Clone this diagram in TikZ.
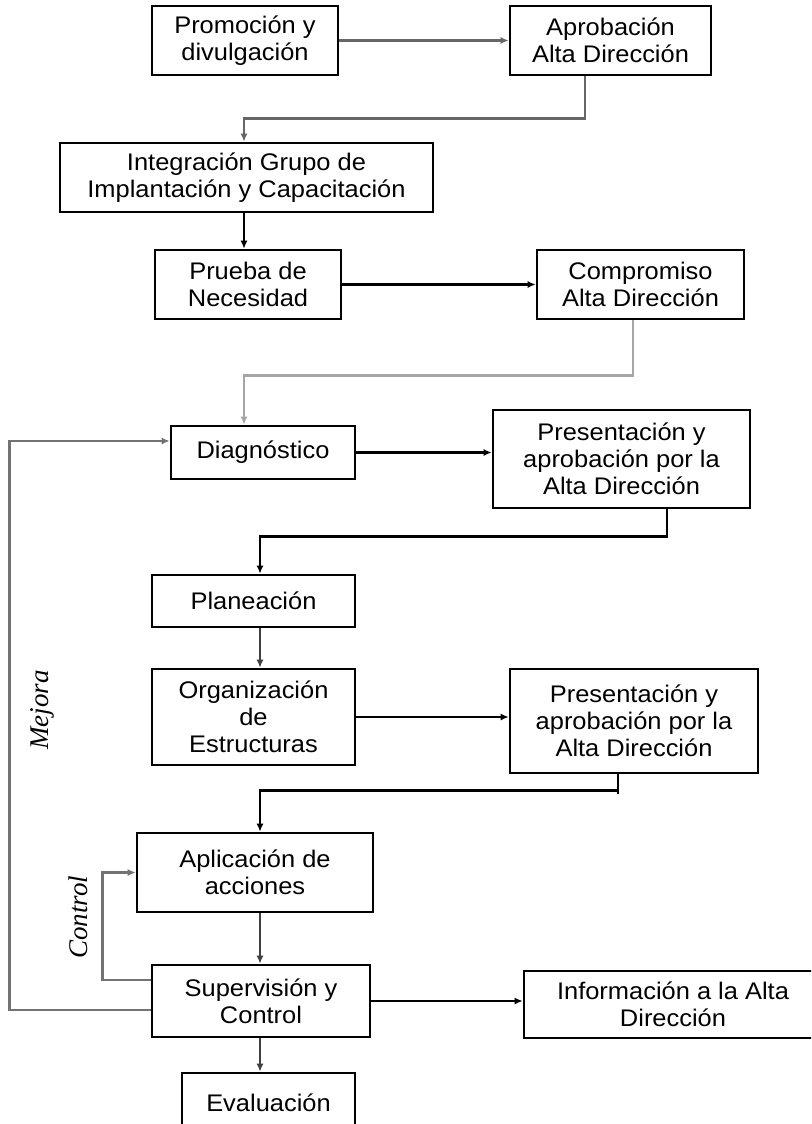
\documentclass[tikz,border=0pt]{standalone}
\usepackage{fontspec}
\setmainfont[FakeStretch=1.06]{Liberation Sans}
\newfontfamily\loopfont{Liberation Serif}
\usetikzlibrary{arrows.meta}

\begin{document}
\begin{tikzpicture}[x=1pt, y=-1pt,
    box/.style={draw, line width=2.6pt, align=center, inner sep=0pt, font=\fontsize{24}{27}\selectfont},
    conn/.style={line width=2.4pt, -{Latex[length=8pt,width=7pt]}},
    loopline/.style={line width=2.6pt, black!55, -{Latex[length=8pt,width=7pt]}},
    looplabel/.style={rotate=90, font=\loopfont\itshape\fontsize{27}{30}\selectfont}]
    \useasboundingbox (0,0) rectangle (811,1124);
    \clip (0,0) rectangle (811,1124);
    \node[box, minimum width=186pt, minimum height=69pt] (prom) at (245,40.5) {Promoción y\\divulgación};
    \node[box, minimum width=201pt, minimum height=69pt] (aprob) at (610.5,40.5) {Aprobación\\Alta Dirección};
    \node[box, minimum width=373pt, minimum height=69pt] (integ) at (246.5,177.5) {Integración Grupo de\\Implantación y Capacitación};
    \node[box, minimum width=186pt, minimum height=69pt] (prueba) at (248,284.5) {Prueba de\\Necesidad};
    \node[box, minimum width=207pt, minimum height=69pt] (compr) at (640.5,284.5) {Compromiso\\Alta Dirección};
    \node[box, minimum width=184pt, minimum height=53pt] (diag) at (263,452.5) {Diagnóstico};
    \node[box, minimum width=257pt, minimum height=98pt] (pres1) at (621.5,459) {Presentación y\\aprobación por la\\Alta Dirección};
    \node[box, minimum width=203pt, minimum height=52pt] (plan) at (253.5,601) {Planeación};
    \node[box, minimum width=203pt, minimum height=96pt] (organ) at (253.5,717) {Organización\\de\\Estructuras};
    \node[box, minimum width=248pt, minimum height=104pt] (pres2) at (634,721) {Presentación y\\aprobación por la\\Alta Dirección};
    \node[box, minimum width=236pt, minimum height=79pt] (aplic) at (255,872.5) {Aplicación de\\acciones};
    \node[box, minimum width=218pt, minimum height=72pt] (superv) at (261,1001) {Supervisión y\\Control};
    \node[box, minimum width=298pt, minimum height=67pt] (info) at (673,1004.5) {Información a la Alta\\Dirección};
    \node[box, minimum width=173pt, minimum height=60pt] (eval) at (268.5,1103) {Evaluación};
    \node[looplabel] (mejora) at (42,710) {Mejora};
    \node[looplabel] (control) at (78,917) {Control};

    \draw[conn, black!60] (prom.east) -- (aprob.west);
    \draw[conn, black!60] ([xshift=-25.5pt]aprob.south) -- ++(0,42) -| ([xshift=-2.5pt]integ.north);
    \draw[conn] ([xshift=-2.5pt]integ.south) -- ([xshift=-4pt]prueba.north);
    \draw[conn] (prueba.east) -- (compr.west);
    \draw[conn, black!35] ([xshift=-7.5pt]compr.south) -- ++(0,55) -| ([xshift=-19pt]diag.north);
    \draw[conn] (diag.east) -- (diag.east -| pres1.west);
    \draw[conn] ([xshift=45.5pt]pres1.south) -- ++(0,27) -| ([xshift=6.5pt]plan.north);
    \draw[conn, black!75] ([xshift=6.5pt]plan.south) -- ([xshift=6.5pt]organ.north);
    \draw[conn] (organ.east) -- (organ.east -| pres2.west);
    \draw[line width=2.4pt] ([xshift=-16pt]pres2.south) -- ++(0,20);
    \draw[conn] ([xshift=-16pt]pres2.south) -- ++(0,16) -| ([xshift=5pt]aplic.north);
    \draw[conn, black!75] ([xshift=5pt]aplic.south) -- ([xshift=-1pt]superv.north);
    \draw[conn] (superv.east) -- (superv.east -| info.west);
    \draw[conn, black!75] ([xshift=-1pt]superv.south) -- ([xshift=-8.5pt]eval.north);
    \draw[loopline] ([yshift=-9pt]superv.west) -- ++(-141,0) |- ([yshift=11.5pt]diag.west);
    \draw[loopline] ([yshift=21pt]superv.west) -- ++(-48,0) |- (aplic.west);
\end{tikzpicture}
\end{document}
